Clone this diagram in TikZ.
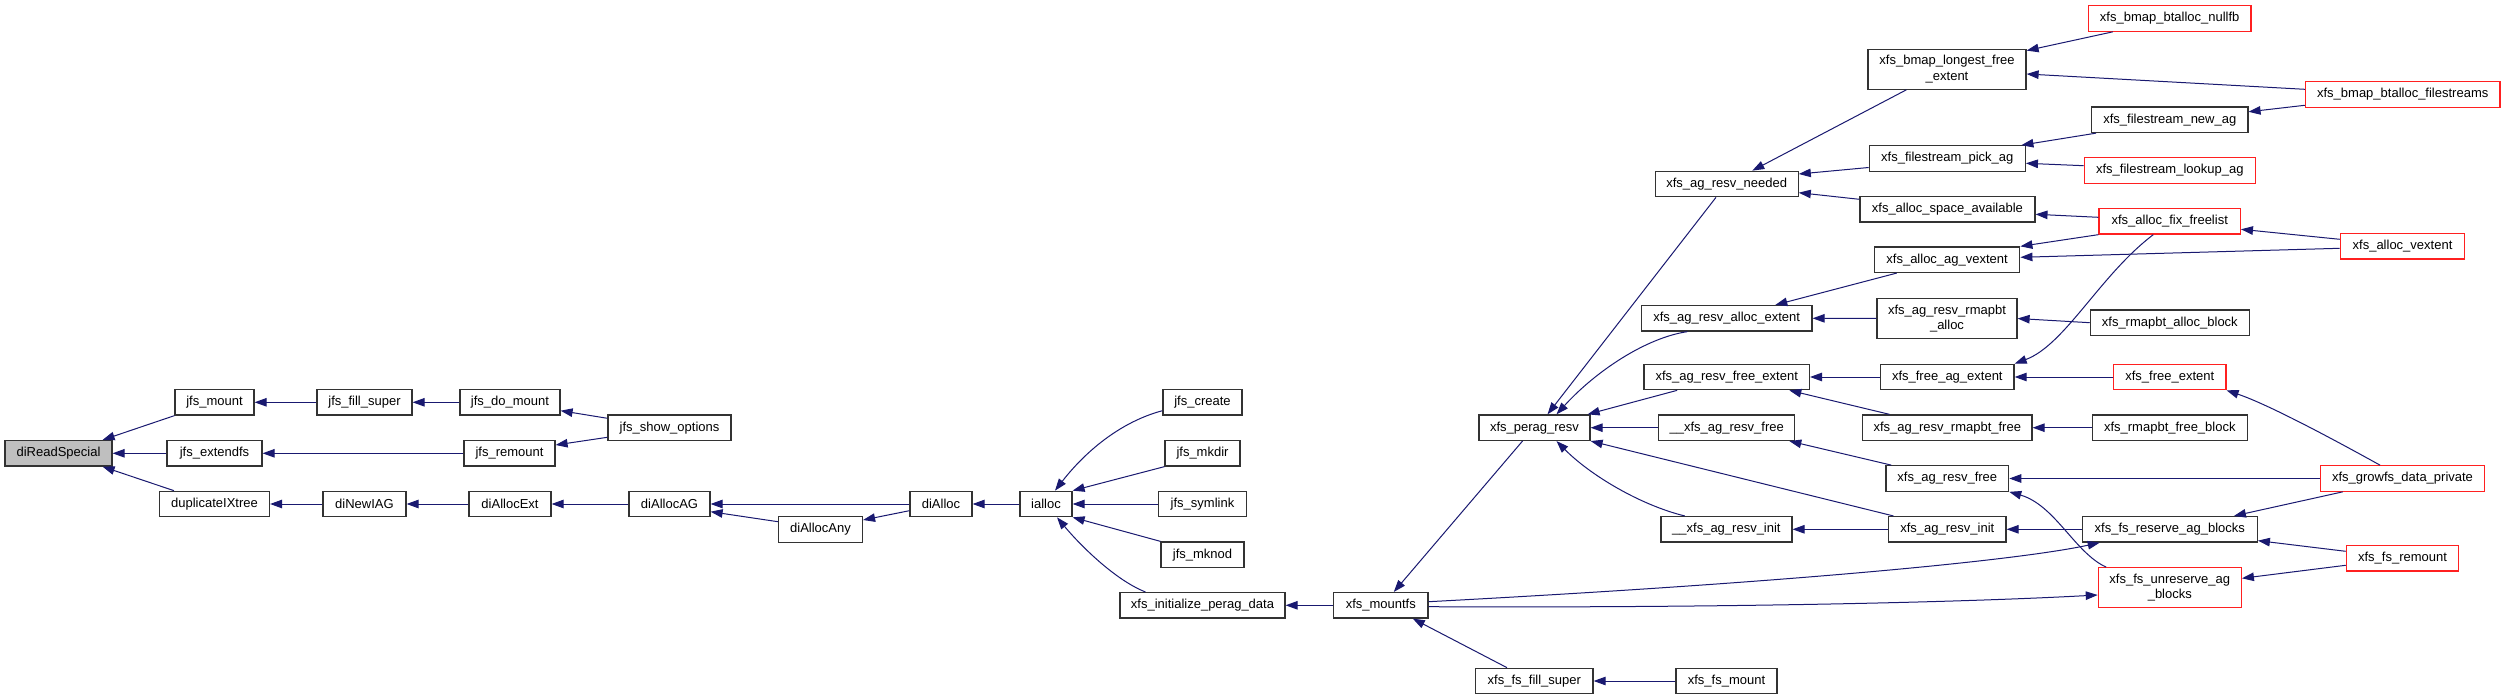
\documentclass[tikz,border=0pt]{standalone}
\usepackage{fontspec}
\setmainfont{Liberation Sans}
\usetikzlibrary{arrows.meta,calc}
\definecolor{edgeblue}{HTML}{191970}
\definecolor{nodegray}{HTML}{BFBFBF}
\definecolor{nodered}{HTML}{FF2020}
\begin{document}
\begin{tikzpicture}[x=1pt,y=-1pt,
  fn/.style={draw=black!80, line width=1.2pt, fill=white, minimum height=25.5pt, inner sep=0pt, align=center, font=\fontsize{13}{15.3}\selectfont},
  fnred/.style={fn, draw=nodered},
  fntwo/.style={minimum height=40pt},
  ce/.style={draw=edgeblue, line width=1pt, -{Triangle[length=12pt,width=8.5pt]}}]
\useasboundingbox[fill=white] (0,0) rectangle (2505,700);
% left (jfs) part
\node[fn, fill=nodegray, minimum width=107pt] (dirs) at (58.5,453.3) {diReadSpecial};
\node[fn, minimum width=79pt] (jmount) at (214.5,402.3) {jfs\_mount};
\node[fn, minimum width=95pt] (jfill) at (364.5,402.3) {jfs\_fill\_super};
\node[fn, minimum width=100pt] (jdomount) at (510,402.3) {jfs\_do\_mount};
\node[fn, minimum width=123pt] (jshow) at (669.5,427.8) {jfs\_show\_options};
\node[fn, minimum width=95pt] (jext) at (214.5,453.3) {jfs\_extendfs};
\node[fn, minimum width=91pt] (jremount) at (509.5,453.3) {jfs\_remount};
\node[fn, minimum width=110pt] (dupx) at (214.5,504) {duplicateIXtree};
\node[fn, minimum width=83pt] (dinew) at (364.5,504) {diNewIAG};
\node[fn, minimum width=82pt] (dext) at (510,504) {diAllocExt};
\node[fn, minimum width=81pt] (dag) at (669.5,504) {diAllocAG};
\node[fn, minimum width=84pt] (dany) at (820.5,529.5) {diAllocAny};
\node[fn, minimum width=62pt] (dalloc) at (941,504) {diAlloc};
\node[fn, minimum width=52pt] (ialloc) at (1046,504) {ialloc};
\node[fn, minimum width=79pt] (jcreate) at (1202.5,402.3) {jfs\_create};
\node[fn, minimum width=75pt] (jmkdir) at (1202.5,453.3) {jfs\_mkdir};
\node[fn, minimum width=88pt] (jsym) at (1202.5,504) {jfs\_symlink};
\node[fn, minimum width=83pt] (jmknod) at (1202.5,554.7) {jfs\_mknod};
\node[fn, minimum width=165pt] (xinit) at (1202.5,605.3) {xfs\_initialize\_perag\_data};
\node[fn, minimum width=94.5pt] (xmountfs) at (1380.8,605.3) {xfs\_mountfs};
% xfs part
\node[fn, minimum width=111pt] (xperag) at (1534.5,427.7) {xfs\_perag\_resv};
\node[fn, minimum width=117.5pt] (xfill) at (1534.3,681) {xfs\_fs\_fill\_super};
\node[fn, minimum width=101pt] (xfsmount) at (1726.5,681) {xfs\_fs\_mount};
\node[fn, minimum width=143pt] (needed) at (1726.7,184) {xfs\_ag\_resv\_needed};
\node[fn, minimum width=170.6pt] (allocext) at (1726.7,318.3) {xfs\_ag\_resv\_alloc\_extent};
\node[fn, minimum width=165.4pt] (freeext) at (1726.7,377) {xfs\_ag\_resv\_free\_extent};
\node[fn, minimum width=136pt] (ufree) at (1726.7,427.7) {\_\_xfs\_ag\_resv\_free};
\node[fn, minimum width=131pt] (uinit) at (1726.4,529.3) {\_\_xfs\_ag\_resv\_init};
\node[fn, fntwo, minimum width=158pt] (longest) at (1947,69.2) {xfs\_bmap\_longest\_free\\\_extent};
\node[fn, minimum width=156pt] (pick) at (1947.3,158.5) {xfs\_filestream\_pick\_ag};
\node[fn, minimum width=175pt] (space) at (1947.4,209.3) {xfs\_alloc\_space\_available};
\node[fn, minimum width=145.4pt] (agv) at (1947.1,259.7) {xfs\_alloc\_ag\_vextent};
\node[fn, fntwo, minimum width=140pt] (rmalloc) at (1947,318.5) {xfs\_ag\_resv\_rmapbt\\\_alloc};
\node[fn, minimum width=133.5pt] (freeag) at (1947.3,377) {xfs\_free\_ag\_extent};
\node[fn, minimum width=169.4pt] (rmfree) at (1947.3,427.7) {xfs\_ag\_resv\_rmapbt\_free};
\node[fn, minimum width=122.7pt] (resvfree) at (1947.3,478.5) {xfs\_ag\_resv\_free};
\node[fn, minimum width=117.4pt] (resvinit) at (1947.3,529.3) {xfs\_ag\_resv\_init};
\node[fnred, minimum width=162.7pt] (nullfb) at (2169.7,18.5) {xfs\_bmap\_btalloc\_nullfb};
\node[fn, minimum width=156.3pt] (newag) at (2169.8,119.8) {xfs\_filestream\_new\_ag};
\node[fnred, minimum width=171pt] (lookup) at (2169.8,170.5) {xfs\_filestream\_lookup\_ag};
\node[fnred, minimum width=141.3pt] (fixfl) at (2169.7,221.3) {xfs\_alloc\_fix\_freelist};
\node[fn, minimum width=159pt] (rmallocblk) at (2169.8,322.7) {xfs\_rmapbt\_alloc\_block};
\node[fnred, minimum width=112.3pt] (freeextent) at (2169.8,377) {xfs\_free\_extent};
\node[fn, minimum width=155pt] (rmfreeblk) at (2169.8,427.7) {xfs\_rmapbt\_free\_block};
\node[fn, minimum width=175pt] (reserve) at (2169.8,529.3) {xfs\_fs\_reserve\_ag\_blocks};
\node[fnred, fntwo, minimum width=143pt] (unreserve) at (2169.8,587.7) {xfs\_fs\_unreserve\_ag\\\_blocks};
\node[fnred, minimum width=194.7pt] (filestreams) at (2402.7,94.5) {xfs\_bmap\_btalloc\_filestreams};
\node[fnred, minimum width=124.4pt] (allocv) at (2402.5,246.3) {xfs\_alloc\_vextent};
\node[fnred, minimum width=164.4pt] (growfs) at (2402.5,478.5) {xfs\_growfs\_data\_private};
\node[fnred, minimum width=112.4pt] (fsremount) at (2402.5,558.3) {xfs\_fs\_remount};
% edges, left part
\draw[ce] (jmount.south west) -- ($(dirs.north east)+(-10,0)$);
\draw[ce] (jext.west) -- (dirs.east);
\draw[ce] ($(dupx.north west)+(15,0)$) -- ($(dirs.south east)+(-10,0)$);
\draw[ce] (jfill.west) -- (jmount.east);
\draw[ce] (jdomount.west) -- (jfill.east);
\draw[ce] ($(jshow.west)+(0,-9.5)$) -- ($(jdomount.east)+(0,8.4)$);
\draw[ce] (jremount.west) -- (jext.east);
\draw[ce] ($(jshow.west)+(0,9.5)$) -- ($(jremount.east)+(0,-8.3)$);
\draw[ce] (dinew.west) -- (dupx.east);
\draw[ce] (dext.west) -- (dinew.east);
\draw[ce] (dag.west) -- (dext.east);
\draw[ce] (dalloc.west) -- (dag.east);
\draw[ce] ($(dany.west)+(0,-7.8)$) -- ($(dag.east)+(0,7.7)$);
\draw[ce] ($(dalloc.west)+(0,6.7)$) -- ($(dany.east)+(0,-9.5)$);
\draw[ce] (ialloc.west) -- (dalloc.east);
\draw[ce] ($(jcreate.west)+(0,8.4)$) .. controls (1120,422) and (1085,452) .. ($(ialloc.north)+(9,0)$);
\draw[ce] (jmkdir.south west) -- (ialloc.north east);
\draw[ce] (jsym.west) -- (ialloc.east);
\draw[ce] (jmknod.north west) -- (ialloc.south east);
\draw[ce] ($(xinit.north west)+(26,0)$) .. controls (1115,580) and (1080,545) .. ($(ialloc.south)+(11,0)$);
\draw[ce] (xmountfs.west) -- (xinit.east);
\draw[ce] ($(xperag.south)+(-12,0)$) -- ($(xmountfs.north)+(13,0)$);
\draw[ce] ($(xfill.north west)+(32,0)$) -- ($(xmountfs.south)+(32,0)$);
\draw[ce] ($(xmountfs.east)+(0,-3.6)$) .. controls (1800,582) and (2020,560) .. ($(reserve.south west)+(18,0)$);
\draw[ce] ($(xmountfs.east)+(0,1.4)$) .. controls (1700,608) and (1950,603) .. ($(unreserve.west)+(0,7.3)$);
\draw[ce] (xfsmount.west) -- (xfill.east);
% edges, xfs part
\draw[ce] ($(needed.south)+(-10.7,0)$) -- ($(xperag.north)+(13,0)$);
\draw[ce] ($(allocext.south)+(-39.4,0)$) .. controls (1645,338) and (1595,372) .. ($(xperag.north)+(22,0)$);
\draw[ce] ($(freeext.south west)+(33.7,0)$) -- ($(xperag.north east)+(-3,0)$);
\draw[ce] (ufree.west) -- (xperag.east);
\draw[ce] ($(resvinit.north west)+(5.4,0)$) -- (xperag.south east);
\draw[ce] ($(uinit.north west)+(24.4,0)$) .. controls (1640,505) and (1590,475) .. ($(xperag.south)+(22,0)$);
\draw[ce] (freeag.west) -- (freeext.east);
\draw[ce] ($(rmfree.north west)+(27.5,0)$) -- ($(freeext.south east)+(-20.7,0)$);
\draw[ce] ($(resvfree.north west)+(6,0)$) -- ($(ufree.south east)+(-6,0)$);
\draw[ce] (resvinit.west) -- (uinit.east);
\draw[ce] ($(fixfl.south)+(-16.4,0)$) .. controls (2100,275) and (2065,345) .. (freeag.north east);
\draw[ce] (freeextent.west) -- (freeag.east);
\draw[ce] (rmfreeblk.west) -- (rmfree.east);
\draw[ce] (growfs.west) -- (resvfree.east);
\draw[ce] ($(unreserve.north west)+(8.4,0)$) .. controls (2075,553) and (2055,505) .. (resvfree.south east);
\draw[ce] (reserve.west) -- (resvinit.east);
\draw[ce] ($(growfs.north)+(-22.5,0)$) .. controls (2340,443) and (2270,405) .. (freeextent.south east);
\draw[ce] ($(growfs.south west)+(23,0)$) -- ($(reserve.north east)+(-24,0)$);
\draw[ce] ($(fsremount.west)+(0,-7)$) -- ($(reserve.south east)+(0,-2)$);
\draw[ce] ($(fsremount.west)+(0,7)$) -- ($(unreserve.east)+(0,-9.4)$);
\draw[ce] ($(nullfb.south west)+(25,0)$) -- ($(longest.north east)+(0,2)$);
\draw[ce] ($(filestreams.west)+(0,-5.2)$) -- ($(longest.east)+(0,4.8)$);
\draw[ce] ($(filestreams.west)+(0,10.8)$) -- ($(newag.east)+(0,-8)$);
\draw[ce] ($(newag.south west)+(5,0)$) -- ($(pick.north east)+(-4.5,0)$);
\draw[ce] ($(lookup.west)+(0,-4.8)$) -- ($(pick.east)+(0,4.8)$);
\draw[ce] ($(fixfl.west)+(0,-4)$) -- ($(space.east)+(0,5)$);
\draw[ce] (fixfl.south west) -- (agv.north east);
\draw[ce] ($(allocv.west)+(0,-7)$) -- ($(fixfl.east)+(0,8)$);
\draw[ce] ($(allocv.west)+(0,2)$) -- ($(agv.east)+(0,-2.4)$);
\draw[ce] (rmallocblk.west) -- (rmalloc.east);
\draw[ce] ($(longest.south west)+(39,0)$) -- ($(needed.north)+(25.6,0)$);
\draw[ce] ($(pick.west)+(0,9)$) -- ($(needed.east)+(0,-10)$);
\draw[ce] ($(space.west)+(0,-10)$) -- ($(needed.east)+(0,8.7)$);
\draw[ce] ($(agv.south west)+(23,0)$) -- ($(allocext.north)+(48.6,0)$);
\draw[ce] (rmalloc.west) -- (allocext.east);
\end{tikzpicture}
\end{document}
